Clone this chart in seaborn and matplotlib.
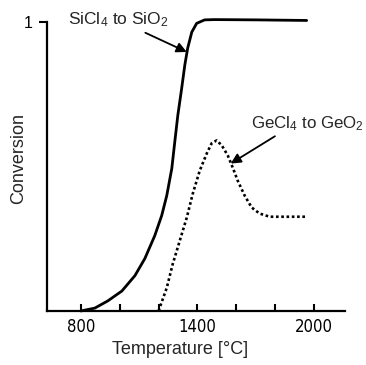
import matplotlib
matplotlib.use("Agg")
import matplotlib.pyplot as plt
import seaborn as sns
import pandas as pd

# Data
si_temp = [800, 872, 939, 1011, 1078, 1129, 1180, 1216, 1242, 1268, 1283, 1299,
           1319, 1335, 1350, 1371, 1396, 1437, 1489, 1700, 1962]
si_conv = [0.0, 0.010, 0.035, 0.069, 0.122, 0.181, 0.260, 0.330, 0.399, 0.493, 0.583, 0.677,
           0.771, 0.851, 0.910, 0.965, 0.995, 1.007, 1.008, 1.007, 1.005]

ge_temp = [1200, 1242, 1273, 1309, 1345, 1376, 1412, 1448, 1473, 1499, 1525, 1556,
           1581, 1607, 1643, 1679, 1720, 1772, 1838, 1962]
ge_conv = [0.0, 0.080, 0.163, 0.243, 0.323, 0.406, 0.486, 0.545, 0.580, 0.590, 0.573, 0.538,
           0.497, 0.451, 0.399, 0.358, 0.337, 0.326, 0.326, 0.326]

x_ticks = [800, 1000, 1200, 1400, 1600, 1800, 2000]
x_ticklabels = ["800", "", "", "1400", "", "", "2000"]
y_ticks = [1]
y_ticklabels = ["1"]

sns.set_style("white")
plt.rcParams["font.family"] = ["Liberation Sans", "DejaVu Sans"]
plt.rcParams["mathtext.default"] = "regular"

fig = plt.figure(figsize=(3.66, 3.65), dpi=100)
ax = fig.add_axes([0.128, 0.148, 0.815, 0.792])

si_df = pd.DataFrame({"T": si_temp, "C": si_conv})
ge_df = pd.DataFrame({"T": ge_temp, "C": ge_conv})

sns.lineplot(data=si_df, x="T", y="C", ax=ax, color="black", lw=2.0, clip_on=False,
             sort=False)
sns.lineplot(data=ge_df, x="T", y="C", ax=ax, color="black", lw=1.9,
             linestyle=(0, (1, 1)), clip_on=False, sort=False)

ax.set_xlim(625, 2160)
ax.set_ylim(0, 1.0)

for s in ["top", "right"]:
    ax.spines[s].set_visible(False)
for s in ["left", "bottom"]:
    ax.spines[s].set_color("black")
    ax.spines[s].set_linewidth(1.6)

ax.set_xticks(x_ticks)
ax.set_xticklabels(x_ticklabels, family=["DejaVu Sans"], stretch="condensed")
ax.tick_params(axis="x", bottom=True, direction="in", length=5, width=1.5,
               labelsize=12, pad=5, colors="black")
ax.set_yticks(y_ticks)
ax.set_yticklabels(y_ticklabels)
ax.tick_params(axis="y", left=True, direction="out", length=6, width=1.5,
               labelsize=11.5, pad=4, colors="black")

ax.set_xlabel("Temperature [°C]", fontsize=13)
ax.xaxis.set_label_coords(0.446, -0.105)
ax.set_ylabel("Conversion", fontsize=13)
ax.yaxis.set_label_coords(-0.066, 0.529)

ax.annotate("SiCl$_4$ to SiO$_2$", xy=(1345, 0.896), xytext=(733, 0.99),
            fontsize=12.5, ha="left", va="baseline",
            arrowprops=dict(arrowstyle="-|>", color="black", lw=1.3,
                            mutation_scale=15, shrinkA=0, shrinkB=0,
                            relpos=(0.64, 0.15)),
            annotation_clip=False)
ax.annotate("GeCl$_4$ to GeO$_2$", xy=(1571, 0.51), xytext=(1675, 0.632),
            fontsize=12.2, ha="left", va="baseline",
            arrowprops=dict(arrowstyle="-|>", color="black", lw=1.3,
                            mutation_scale=15, shrinkA=0, shrinkB=0,
                            relpos=(0.26, 0.0)),
            annotation_clip=False)

fig.savefig("out.png", dpi=100)
